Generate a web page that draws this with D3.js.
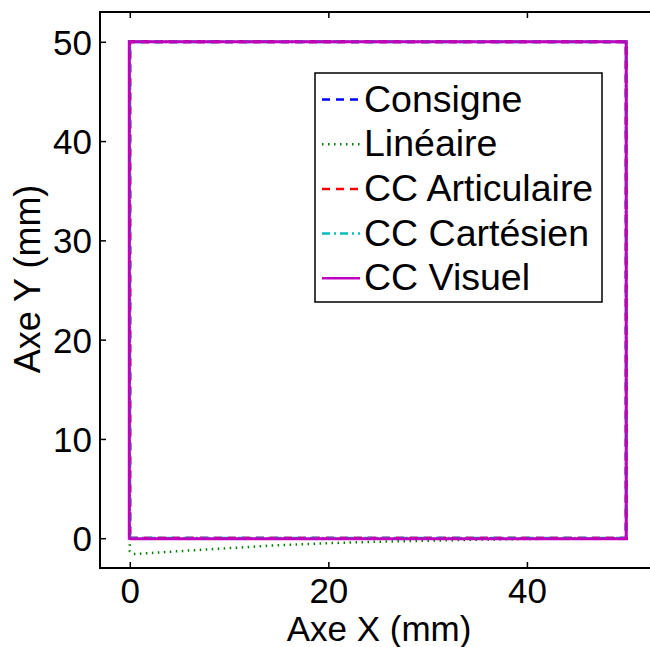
<!DOCTYPE html>
<html><head><meta charset="utf-8">
<script src="https://cdn.jsdelivr.net/npm/d3@7"></script>
<style>body{margin:0;background:#fff}svg{display:block}text{font-family:"Liberation Sans",Arial,sans-serif;fill:#000}</style>
</head><body>
<script>
// ---- data ----
const seriesNames = ["Consigne","Linéaire","CC Articulaire","CC Cartésien","CC Visuel"];
const consigneX = [0, 50, 50, 0, 0];
const consigneY = [0, 0, 50, 50, 0];
const lineaireX = [0, 0, 0, 0.4, 5, 10, 15, 20, 25, 30, 35, 40, 45, 50, 50, 0, 0];
const lineaireY = [0, -0.6, -1.3, -1.6, -1.3, -1.0, -0.7, -0.5, -0.35, -0.25, -0.15, -0.08, -0.03, 0, 50, 50, 0];
const articulaireX = [0, 50, 50, 0, 0];
const articulaireY = [0, 0, 50, 50, 0];
const cartesienX = [0, 50, 50, 0, 0];
const cartesienY = [0, 0, 50, 50, 0];
const visuelX = [0, 50, 50, -0.05, -0.05, 0];
const visuelY = [-0.05, -0.05, 50, 50, 0, 0];
const xTicks = [0, 20, 40];
const yTicks = [0, 10, 20, 30, 40, 50];

const W = 650, H = 647;
const svg = d3.select("body").append("svg").attr("width", W).attr("height", H);
const x = d3.scaleLinear().domain([-3, 53]).range([100, 656]);
const y = d3.scaleLinear().domain([-3, 53]).range([568, 12]);

const series = [
  {name: seriesNames[0], xs: consigneX, ys: consigneY, color: "#0000ff", dash: "8,6", w: 3},
  {name: seriesNames[1], xs: lineaireX, ys: lineaireY, color: "#008000", dash: "1.5,4.5", w: 2.5},
  {name: seriesNames[2], xs: articulaireX, ys: articulaireY, color: "#ff0000", dash: "8,6", w: 3},
  {name: seriesNames[3], xs: cartesienX, ys: cartesienY, color: "#00bfbf", dash: "8,4,2,4", w: 3},
  {name: seriesNames[4], xs: visuelX, ys: visuelY, color: "#bf00bf", dash: null, w: 3}
];

const line = d3.line().x(d => x(d[0])).y(d => y(d[1]));
const gData = svg.append("g");
series.forEach(s => {
  const pts = s.xs.map((v, i) => [v, s.ys[i]]);
  gData.append("path").attr("d", line(pts)).attr("fill", "none")
    .attr("stroke", s.color).attr("stroke-width", s.w)
    .attr("stroke-dasharray", s.dash).attr("stroke-linejoin", "miter");
});

// axes box
const axisColor = "#000";
svg.append("rect").attr("x", x(-3)).attr("y", y(53)).attr("width", x(53) - x(-3)).attr("height", y(-3) - y(53))
  .attr("fill", "none").attr("stroke", axisColor).attr("stroke-width", 2);

const xb = svg.append("g").attr("transform", `translate(0,${y(-3)})`)
  .call(d3.axisBottom(x).tickValues(xTicks).tickSize(-6).tickFormat(d3.format("d")));
const xt = svg.append("g").attr("transform", `translate(0,${y(53)})`)
  .call(d3.axisTop(x).tickValues(xTicks).tickSize(-6).tickFormat(""));
const yl = svg.append("g").attr("transform", `translate(${x(-3)},0)`)
  .call(d3.axisLeft(y).tickValues(yTicks).tickSize(-6).tickFormat(d3.format("d")));
[xb, xt, yl].forEach(g => {
  g.select(".domain").remove();
  g.selectAll(".tick line").attr("stroke", axisColor).attr("stroke-width", 1.5);
  g.selectAll("text").style("font-size", "35px").attr("fill", "#000");
});
xb.selectAll(".tick text").attr("dy", null).attr("y", 35);
yl.selectAll(".tick text").attr("dy", "0.36em").attr("x", -8);

// axis labels
svg.append("text").attr("x", 379).attr("y", 641).attr("text-anchor", "middle")
  .style("font-size", "35px").text("Axe X (mm)");
svg.append("text").attr("transform", "translate(40,279) rotate(-90)").attr("text-anchor", "middle")
  .style("font-size", "36px").text("Axe Y (mm)");

// legend
const lg = svg.append("g");
lg.append("rect").attr("x", 315).attr("y", 73).attr("width", 287).attr("height", 229)
  .attr("fill", "#fff").attr("stroke", axisColor).attr("stroke-width", 1.5);
series.forEach((s, i) => {
  const yy = 99.5 + i * 44.7;
  lg.append("line").attr("x1", 322).attr("x2", 360).attr("y1", yy).attr("y2", yy)
    .attr("stroke", s.color).attr("stroke-width", 2.5).attr("stroke-dasharray", s.dash);
  lg.append("text").attr("x", 364).attr("y", yy + 12).style("font-size", "37.5px").text(s.name);
});
</script>
</body></html>
